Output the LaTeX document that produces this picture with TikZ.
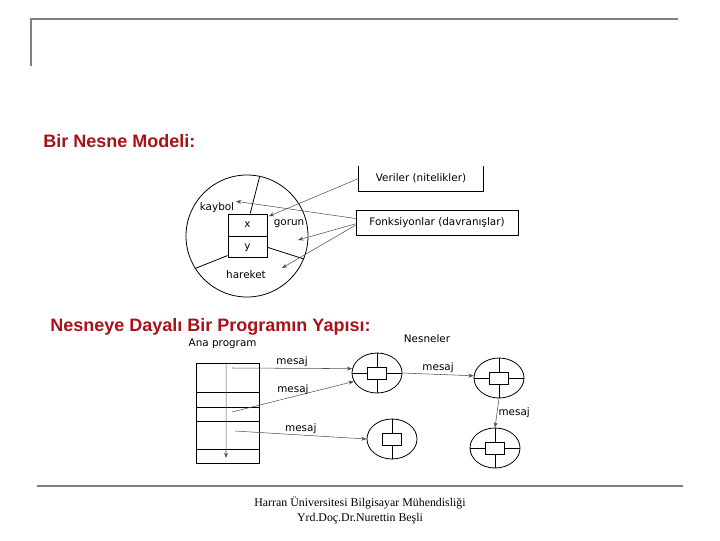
\documentclass[tikz,border=0pt]{standalone}
\usepackage{fontspec}
\setmainfont{Liberation Serif}
\newfontfamily\headfont{Liberation Sans}
\newfontfamily\handfont{DejaVu Sans}
\usetikzlibrary{positioning,shapes.geometric,arrows.meta}
\definecolor{hdRed}{HTML}{A8121A}
\definecolor{frameGray}{HTML}{808080}
\definecolor{arrGray}{HTML}{505050}

\begin{document}
\begin{tikzpicture}[x=0.75pt,y=-0.75pt,line width=0.6pt]
\tikzstyle{head}=[font=\headfont\bfseries\fontsize{13.5}{16}\selectfont, text=hdRed, anchor=west, inner sep=0]
\tikzstyle{hand}=[font=\handfont\fontsize{7.8}{9}\selectfont, text=black, inner sep=1pt]
\tikzstyle{arr}=[-{Stealth[length=4pt,width=3pt]}, arrGray, line width=0.4pt]
\tikzstyle{obj}=[draw, ellipse, minimum width=37.5pt, minimum height=30pt, inner sep=0]
\tikzstyle{core}=[draw, rectangle, minimum width=14.25pt, minimum height=9pt, inner sep=0]
\useasboundingbox (0,0) rectangle (720,540);

% slide frame and footer
\draw[frameGray, line width=2.2pt] (31,66) -- (31,19) -- (678,19);
\draw[frameGray, line width=2.2pt] (37,486) -- (683,486);
\node[font=\fontsize{8.9}{11.2}\selectfont, align=center] (foot) at (360,510.5) {Harran Üniversitesi Bilgisayar Mühendisliği\\Yrd.Doç.Dr.Nurettin Beşli};

\node[head] (h1) at (43,141) {Bir Nesne Modeli:};
\node[head] (h2) at (50,327) {Nesneye Dayalı Bir Programın Yapısı:};

% object model
\node[draw, circle, minimum size=91.5pt, inner sep=0] (nesne) at (247,236) {};
\node[draw, hand, minimum width=29.25pt, minimum height=16.5pt, inner sep=0] (xcell) at (247.5,225) {x};
\node[draw, hand, minimum width=29.25pt, minimum height=15.75pt, inner sep=0, below=0pt of xcell] (ycell) {y};
\draw[line width=1.3pt] (xcell.south west) -- (xcell.south east);
\draw ([xshift=2pt]xcell.north) -- (nesne.78);
\draw (ycell.east) -- (nesne.-22);
\draw ([yshift=2pt]ycell.south west) -- (nesne.212);
\node[hand] (kaybol) at (217,208) {kaybol};
\node[hand] (gorun) at (289,224) {gorun};
\node[hand] (hareket) at (246,275) {hareket};

\node[hand, minimum width=93pt, minimum height=18.75pt] (veri) at (421,178.5) {Veriler (nitelikler)};
\draw (veri.north west) |- (veri.south east) -- (veri.north east);
\node[hand, draw, minimum width=121.5pt, minimum height=18.75pt] (fonk) at (437,222.5) {Fonksiyonlar (davranışlar)};

\coordinate (gorunpt) at (298,240);
\coordinate (harpt) at (282,268);
\draw[arr] (veri.west) -- ([xshift=1pt,yshift=-2pt]xcell.north east);
\draw[arr] ([yshift=3pt]fonk.west) -- (kaybol.north east);
\draw[arr] ([yshift=-1pt]fonk.west) -- (gorunpt);
\draw[arr] ([yshift=-2pt]fonk.west) -- (harpt);

% program structure
\node[hand, anchor=west] (ana) at (187,344) {Ana program};
\node[hand] (nesneler) at (427,339) {Nesneler};
\node[draw, minimum width=47.25pt, minimum height=75pt, inner sep=0] (prog) at (227.5,413) {};
\foreach \yy in {392,407,421,449}
  \draw (prog.west |- 0,\yy) -- (prog.east |- 0,\yy);
\coordinate (progend) at (226,458);
\draw[arr] ([xshift=-1pt]prog.north) -- (progend);

\foreach \n/\x/\y/\h in {o1/377/373/1,o2/499/378/1,o3/392/439/0,o4/495/448/1}{
  \node[obj] (\n) at (\x,\y) {};
  \node[core] (c\n) at (\x,\y) {};
  \draw (\n.north) -- (c\n.north) (c\n.south) -- (\n.south);
  \ifnum\h=1 \draw (\n.west) -- (c\n.west) (c\n.east) -- (\n.east); \fi
}

\coordinate (m1) at (232,368);
\coordinate (m2) at (232,412);
\coordinate (m3) at (235,431);
\draw[arr] (m1) -- node[hand, above] (msg1) {mesaj} (o1.170);
\draw[arr] (m2) -- node[hand, above] (msg2) {mesaj} (o1.200);
\draw[arr] (m3) -- node[hand, above] (msg3) {mesaj} (o3.west);
\draw[arr] (o1.east) -- node[hand, above] (msg4) {mesaj} (o2.175);
\draw[arr] (o2.south) -- node[hand, right] (msg5) {mesaj} (o4.north);
\end{tikzpicture}
\end{document}
